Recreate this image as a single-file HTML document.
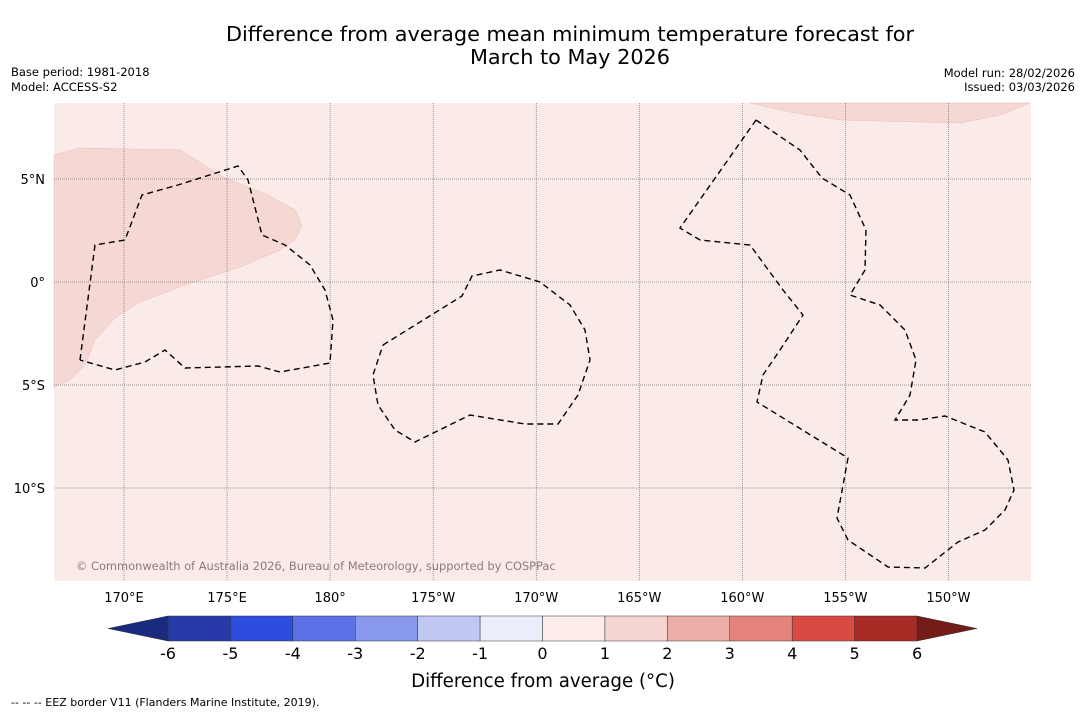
<!DOCTYPE html>
<html><head><meta charset="utf-8"><style>
body{margin:0;background:#fff;width:1085px;height:713px;overflow:hidden;font-family:"Liberation Sans","DejaVu Sans",sans-serif}
svg text{font-family:"DejaVu Sans","Liberation Sans",sans-serif}
</style></head><body>
<svg id="chart" width="1085" height="713">
<text x="570" y="41" font-size="20.8" text-anchor="middle">Difference from average mean minimum temperature forecast for</text>
<text x="570" y="64" font-size="20.8" text-anchor="middle">March to May 2026</text>
<text x="11" y="76" font-size="11.5">Base period: 1981-2018</text>
<text x="11" y="91" font-size="11.5">Model: ACCESS-S2</text>
<text x="1075" y="77" font-size="11.5" text-anchor="end">Model run: 28/02/2026</text>
<text x="1075" y="91" font-size="11.5" text-anchor="end">Issued: 03/03/2026</text>
<g>
<rect x="54" y="103" width="977" height="478" fill="#fbebe8"/>
<polygon fill="#f5d7d4" stroke="#e8bdb8" stroke-width="0.5" points="54,155 80,148 180,150 225,178 268,195 295,210 302,225 295,240 280,250 240,267 185,285 140,302 115,318 95,340 85,365 70,380 54,387"/>
<polygon fill="#f5d7d4" stroke="#e8bdb8" stroke-width="0.5" points="750,103 790,112 840,120 960,123 1000,115 1030,103"/>
<g id="grid"></g>
<g fill="none" stroke="#000" stroke-width="1.4" stroke-dasharray="6,4">
<polyline points="80,360 95,245 125,240 142,195 178,185 238,166 248,180 262,235 285,245 310,265 325,290 333,320 330,363 280,372 258,366 185,368 165,350 145,362 115,370 80,360"/>
<polyline points="383,345 462,296 472,276 500,270 540,282 570,305 585,330 590,360 578,395 558,424 525,424 470,415 415,442 395,430 378,405 373,375 383,345"/>
<polyline points="756,120 800,150 822,178 850,195 866,230 865,270 850,295 880,305 905,330 916,360 910,395 895,420 918,420 945,416 985,432 1008,460 1014,490 1005,510 985,530 958,542 925,568 888,567 848,540 837,518 848,458 757,402 763,375 780,350 803,315 783,290 750,245 700,240 680,228 756,120"/>
</g>
<text x="76" y="570" font-size="11.4" fill="#8a7b7a">© Commonwealth of Australia 2026, Bureau of Meteorology, supported by COSPPac</text>
</g>
<g id="axes"></g>
<g id="cbar"></g>
<text x="543" y="687" font-size="18.2" text-anchor="middle">Difference from average (°C)</text>
<text x="11" y="706" font-size="11">--  --  -- EEZ border V11 (Flanders Marine Institute, 2019).</text>
</svg>
<script>
const lonTicks=[170,175,180,185,190,195,200,205,210];
const lonLabels=["170°E","175°E","180°","175°W","170°W","165°W","160°W","155°W","150°W"];
const latTicks=[5,0,-5,-10];
const latLabels=["5°N","0°","5°S","10°S"];
const cbarTicks=[-6,-5,-4,-3,-2,-1,0,1,2,3,4,5,6];
const cbarColors=["#263ba8","#2c4de0","#5a72e5","#8898eb","#c0c7f3","#ebedfb","#fcedeb","#f5d5d2","#ebada7","#e4847c","#d94a42","#a92b26"];
const NS="http://www.w3.org/2000/svg";
function X(lon){return 124+(lon-170)*20.61;}
function Y(lat){return 282-lat*20.6;}
function CX(v){return 168+(v+6)*62.42;}
const grid=document.getElementById('grid'),axes=document.getElementById('axes'),cb=document.getElementById('cbar');
function mk(tag,attrs,parent){const e=document.createElementNS(NS,tag);for(const k in attrs)e.setAttribute(k,attrs[k]);parent.appendChild(e);return e;}
lonTicks.forEach((l,i)=>{
 const ln=mk('line',{x1:X(l),x2:X(l),y1:103,y2:581,stroke:'#444','stroke-width':0.5,'stroke-dasharray':'1,1'},grid);
 
 
 const t=mk('text',{x:X(l),y:602,'font-size':13,'text-anchor':'middle'},axes);t.textContent=lonLabels[i];
 
 
});
latTicks.forEach((l,i)=>{
 const ln=mk('line',{x1:54,x2:1031,y1:Y(l),y2:Y(l),stroke:'#444','stroke-width':0.5,'stroke-dasharray':'1,1'},grid);
 
 
 const t=mk('text',{x:45,y:Y(l)+5,'font-size':13,'text-anchor':'end'},axes);t.textContent=latLabels[i];
 
 
});
cbarColors.forEach((c,i)=>{
 const r=mk('rect',{x:CX(cbarTicks[i]),y:616,width:CX(cbarTicks[i+1])-CX(cbarTicks[i]),height:25,fill:c,stroke:'#333','stroke-width':0.5},cb);
 
 
});
const lt=mk('polygon',{points:`108,628.5 ${CX(-6)},616 ${CX(-6)},641`,fill:'#1a2a7e',stroke:'#333','stroke-width':0.5},cb);


const rt=mk('polygon',{points:`977,628.5 ${CX(6)},616 ${CX(6)},641`,fill:'#731c18',stroke:'#333','stroke-width':0.5},cb);


cbarTicks.forEach(v=>{
 const t=mk('text',{x:CX(v),y:659,'font-size':16,'text-anchor':'middle'},cb);t.textContent=v;
 
 
});
</script>
</body></html>
